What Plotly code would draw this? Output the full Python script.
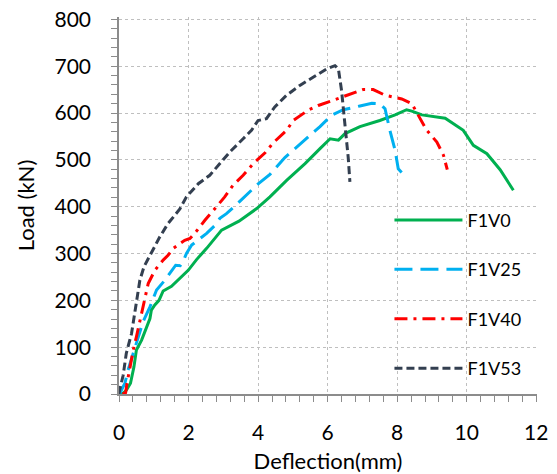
import plotly.graph_objects as go

# F1V0
f1v0_x = [0.05, 0.12, 0.21, 0.33, 0.43, 0.50, 0.65, 0.79, 0.89, 0.93, 1.03, 1.15, 1.27, 1.51, 1.75, 1.99,
          2.23, 2.52, 2.95, 3.45, 3.96, 4.34, 4.82, 5.35, 5.78, 6.07, 6.31, 6.50, 6.93, 7.50, 7.94, 8.27,
          8.42, 8.71, 9.38, 9.90, 10.19, 10.58, 10.96, 11.34]
f1v0_y = [0, 2, 8, 23, 58, 94, 115, 140, 161, 179, 190, 200, 220, 230, 247, 264,
          287, 311, 350, 369, 396, 421, 456, 492, 524, 545, 542, 556, 571, 584, 596, 607,
          604, 596, 589, 563, 531, 513, 479, 435]
# F1V25
f1v25_x = [0.0, 0.02, 0.17, 0.26, 0.41, 0.55, 0.69, 0.89, 1.08, 1.32, 1.46, 1.63, 1.76, 1.86, 1.94,
           2.09, 2.52, 2.76, 2.90, 3.09, 3.33, 3.72, 3.96, 4.34, 4.58, 4.77, 5.11, 5.49, 5.78, 6.11,
           6.45, 6.93, 7.27, 7.50, 7.65, 7.79, 7.94, 8.03, 8.22]
f1v25_y = [0, 1, 23, 51, 87, 122, 154, 186, 222, 243, 257, 275, 274, 286, 300,
           318, 343, 360, 375, 385, 401, 428, 446, 469, 488, 505, 527, 552, 571, 595,
           607, 615, 621, 620, 609, 563, 520, 481, 465]
# F1V40
f1v40_x = [0.10, 0.19, 0.23, 0.31, 0.41, 0.50, 0.62, 0.69, 0.84, 1.03, 1.27, 1.41, 1.56, 1.89, 2.04,
           2.23, 2.47, 2.76, 3.04, 3.28, 3.57, 3.86, 4.20, 4.43, 4.82, 5.01, 5.44, 5.73, 6.16, 6.55,
           7.02, 7.31, 7.65, 8.13, 8.42, 8.66, 8.85, 9.14, 9.33, 9.44]
f1v40_y = [0, 3, 23, 58, 94, 122, 165, 186, 236, 264, 286, 296, 311, 328, 332,
           348, 371, 396, 421, 446, 467, 492, 515, 536, 563, 584, 606, 616, 627, 638,
           650, 650, 638, 630, 620, 588, 563, 538, 510, 479]
# F1V53
f1v53_x = [0.0, 0.02, 0.12, 0.21, 0.36, 0.50, 0.60, 0.72, 0.85, 0.98, 1.17, 1.41, 1.75, 1.94, 2.28,
           2.61, 2.90, 3.19, 3.57, 3.81, 4.00, 4.24, 4.48, 4.82, 5.20, 5.68, 5.97, 6.21, 6.31, 6.40,
           6.50, 6.59, 6.64]
f1v53_y = [0, 9, 40, 87, 129, 200, 243, 272, 290, 307, 335, 364, 395, 421, 449,
           467, 492, 517, 545, 563, 584, 588, 613, 638, 659, 680, 694, 701, 694, 648,
           577, 506, 453]

series = [
    ("F1V0", f1v0_x, f1v0_y, "#00B050", "solid"),
    ("F1V25", f1v25_x, f1v25_y, "#00B0F0", "18px,8px"),
    ("F1V40", f1v40_x, f1v40_y, "#FF0000", "13px,6px,3px,6px"),
    ("F1V53", f1v53_x, f1v53_y, "#333F50", "8px,4px"),
]

FONT = "Lato, 'Open Sans', sans-serif"

fig = go.Figure()
for i, (name, xs, ys, col, dash) in enumerate(series):
    fig.add_trace(go.Scatter(x=xs, y=ys, mode="lines", name=name, legendgroup=name,
                             line=dict(color=col, width=3, dash=dash)))

axis_common = dict(
    showline=True, linecolor="#8c8c8c", linewidth=1.5,
    showgrid=True, gridcolor="#bfbfbf", gridwidth=1, griddash="dot",
    zeroline=False, ticks="outside", ticklen=6, tickcolor="#8c8c8c", tickwidth=1,
    tickfont=dict(family=FONT, size=21, color="black"),
    automargin=False, ticklabeloverflow="allow",
)

fig.update_xaxes(range=[0, 12.02], dtick=2, tick0=0,
                 minor=dict(dtick=0.4, ticks="outside", ticklen=6, tickcolor="#8c8c8c", showgrid=False),
                 title=dict(text="Deflection(mm)", font=dict(family=FONT, size=22, color="black"), standoff=16),
                 ticklabelstandoff=13, **axis_common)
fig.update_yaxes(range=[0, 805], dtick=100, tick0=0,
                 minor=dict(dtick=20, ticks="outside", ticklen=6, tickcolor="#8c8c8c", showgrid=False),
                 title=dict(text="Load (kN)", font=dict(family=FONT, size=22, color="black"), standoff=14),
                 ticklabelstandoff=16, **axis_common)

fig.update_layout(
    width=557, height=474,
    margin=dict(l=119, r=20, t=16.7, b=80),
    plot_bgcolor="white", paper_bgcolor="white",
    font=dict(family=FONT, color="black"),
    legend=dict(x=0.647, y=0.51, xanchor="left", yanchor="top",
                font=dict(family=FONT, size=18, color="black"),
                bgcolor="rgba(255,255,255,0)", tracegroupgap=23, itemwidth=68),
)

fig.write_html("out.html", config={"displayModeBar": False},
               post_script="document.body.style.margin='0';")
